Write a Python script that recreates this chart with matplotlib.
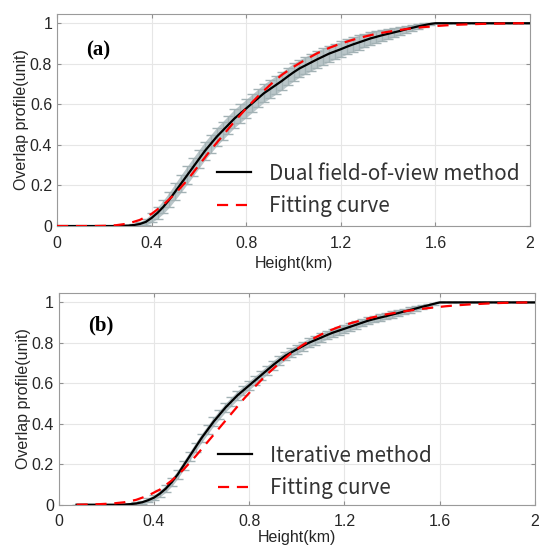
import matplotlib
matplotlib.use("Agg")
import matplotlib.pyplot as plt

# ---- panel (a): dual field-of-view method ----
heights_a = [round(i * 0.025, 3) for i in range(81)]
dual_fov = [0.0, 0.0, 0.0, 0.0, 0.0, 0.0, 0.0, 0.0, 0.0, 0.0,
            0.0, 0.001, 0.002, 0.005, 0.01, 0.02, 0.04, 0.065, 0.095, 0.13,
            0.17, 0.21, 0.25, 0.29, 0.33, 0.37, 0.405, 0.44, 0.47, 0.50,
            0.53, 0.555, 0.58, 0.605, 0.63, 0.655, 0.675, 0.695, 0.715, 0.737,
            0.758, 0.777, 0.792, 0.807, 0.822, 0.836, 0.85, 0.861, 0.872, 0.884,
            0.895, 0.905, 0.915, 0.925, 0.933, 0.941, 0.948, 0.955, 0.962, 0.97,
            0.977, 0.984, 0.99, 0.996, 1.0, 1.0, 1.0, 1.0, 1.0, 1.0,
            1.0, 1.0, 1.0, 1.0, 1.0, 1.0, 1.0, 1.0, 1.0, 1.0, 1.0]
dual_err = [0.0, 0.0, 0.0, 0.0, 0.0, 0.0, 0.0, 0.0, 0.0, 0.0,
            0.0, 0.002, 0.004, 0.007, 0.011, 0.016, 0.022, 0.028, 0.033, 0.037,
            0.04, 0.043, 0.044, 0.045, 0.045, 0.045, 0.045, 0.045, 0.045, 0.045,
            0.045, 0.045, 0.045, 0.045, 0.045, 0.045, 0.045, 0.045, 0.045, 0.044,
            0.044, 0.043, 0.043, 0.042, 0.042, 0.041, 0.04, 0.039, 0.038, 0.037,
            0.036, 0.035, 0.034, 0.032, 0.03, 0.028, 0.026, 0.024, 0.021, 0.018,
            0.015, 0.012, 0.009, 0.005, 0.0, 0.0, 0.0, 0.0, 0.0, 0.0,
            0.0, 0.0, 0.0, 0.0, 0.0, 0.0, 0.0, 0.0, 0.0, 0.0, 0.0]

fit_heights = [round(i * 0.05, 2) for i in range(41)]
fit_a = [0.0, 0.0, 0.0, 0.0, 0.001, 0.004, 0.012, 0.03, 0.06, 0.105,
         0.16, 0.225, 0.30, 0.375, 0.445, 0.515, 0.58, 0.64, 0.695, 0.745,
         0.785, 0.82, 0.852, 0.878, 0.90, 0.918, 0.934, 0.948, 0.958, 0.967,
         0.975, 0.981, 0.986, 0.99, 0.993, 0.995, 0.997, 0.998, 0.999, 1.0, 1.0]

# ---- panel (b): iterative method ----
heights_b = [round(0.075 + i * 0.025, 3) for i in range(78)]
iterative = [0.0, 0.0, 0.0, 0.0, 0.0, 0.0, 0.0, 0.0, 0.001, 0.003,
             0.006, 0.012, 0.022, 0.035, 0.055, 0.08, 0.112, 0.15, 0.195, 0.24,
             0.285, 0.33, 0.37, 0.41, 0.445, 0.48, 0.51, 0.54, 0.565, 0.59,
             0.615, 0.64, 0.665, 0.69, 0.713, 0.735, 0.752, 0.768, 0.784, 0.8,
             0.813, 0.825, 0.838, 0.85, 0.86, 0.87, 0.88, 0.89, 0.9, 0.91,
             0.918, 0.925, 0.932, 0.94, 0.947, 0.955, 0.962, 0.97, 0.978, 0.985,
             0.993, 1.0, 1.0, 1.0, 1.0, 1.0, 1.0, 1.0, 1.0, 1.0,
             1.0, 1.0, 1.0, 1.0, 1.0, 1.0, 1.0, 1.0]
iter_err = [0.0, 0.0, 0.0, 0.0, 0.0, 0.0, 0.0, 0.0, 0.001, 0.003,
            0.005, 0.008, 0.011, 0.014, 0.016, 0.018, 0.02, 0.021, 0.022, 0.022,
            0.022, 0.022, 0.022, 0.022, 0.022, 0.022, 0.022, 0.022, 0.022, 0.022,
            0.022, 0.022, 0.022, 0.022, 0.022, 0.022, 0.022, 0.022, 0.022, 0.022,
            0.022, 0.022, 0.021, 0.021, 0.02, 0.02, 0.019, 0.019, 0.018, 0.018,
            0.017, 0.017, 0.016, 0.016, 0.015, 0.014, 0.013, 0.012, 0.01, 0.008,
            0.005, 0.0, 0.0, 0.0, 0.0, 0.0, 0.0, 0.0, 0.0, 0.0,
            0.0, 0.0, 0.0, 0.0, 0.0, 0.0, 0.0, 0.0]

fit_heights_b = [round(0.075 + i * 0.05, 3) for i in range(39)] + [2.0]
fit_b = [0.0, 0.001, 0.003, 0.006, 0.012, 0.024, 0.045, 0.075, 0.12, 0.175,
         0.24, 0.31, 0.38, 0.45, 0.52, 0.585, 0.645, 0.698, 0.748, 0.79,
         0.825, 0.855, 0.878, 0.897, 0.913, 0.928, 0.941, 0.951, 0.96, 0.968,
         0.975, 0.981, 0.986, 0.99, 0.993, 0.996, 0.998, 0.999, 1.0, 1.0]

xticks = [0, 0.4, 0.8, 1.2, 1.6, 2]
xticklabels = ["0", "0.4", "0.8", "1.2", "1.6", "2"]
yticks = [0, 0.2, 0.4, 0.6, 0.8, 1]
yticklabels = ["0", "0.2", "0.4", "0.6", "0.8", "1"]

plt.rcParams['font.family'] = ['Liberation Sans', 'DejaVu Sans']

fig = plt.figure(figsize=(5.41, 5.47), dpi=100)
ax_a = fig.add_axes([0.1054, 0.5868, 0.8743, 0.3885])
ax_b = fig.add_axes([0.1085, 0.0773, 0.8804, 0.3876])

panels = [
    (ax_a, heights_a, dual_fov, dual_err, fit_heights, fit_a,
     "Dual field-of-view method", "(a)", (0.338, 0.298), 0.828, 3.5),
    (ax_b, heights_b, iterative, iter_err, fit_heights_b, fit_b,
     "Iterative method", "(b)", (0.335, 0.283), 0.845, 0.5),
]

for ax, h, meas, err, fh, fit, name, tag, leg_pos, tag_y, xpad in panels:
    lo = [m - e for m, e in zip(meas, err)]
    hi = [m + e for m, e in zip(meas, err)]
    ax.fill_between(h, lo, hi, color='#bac6c9', lw=0, zorder=1.5)
    eb = ax.errorbar(h, meas, yerr=err, fmt='none', ecolor='#a3b2b5',
                     elinewidth=1.0, capsize=3.5, capthick=1.0, zorder=2)
    for cap in eb[1]:
        cap.set_color('#84959a')
    ax.plot(h, meas, color='black', lw=1.6, label=name, zorder=3)
    ax.plot(fh, fit, color='red', lw=1.6, ls=(0, (5, 3.5)), label="Fitting curve", zorder=4)

    ax.set_xlim(0, 2)
    ax.set_ylim(0, 1.048)
    ax.set_xticks(xticks)
    ax.set_xticklabels(xticklabels)
    ax.set_yticks(yticks)
    ax.set_yticklabels(yticklabels)
    ax.grid(True, color='#e6e6e6', lw=0.8)
    ax.set_axisbelow(True)
    ax.tick_params(direction='in', length=3, top=True, right=True,
                   colors='#909090', labelcolor='#262626', labelsize=11.5)
    ax.tick_params(axis='x', pad=7)
    for sp in ax.spines.values():
        sp.set_color('#9a9a9a')
        sp.set_linewidth(0.8)
    ax.set_xlabel("Height(km)", fontsize=11.5, color='#262626', labelpad=xpad)
    ax.set_ylabel("Overlap profile(unit)", fontsize=11.5, color='#262626', labelpad=0.5)
    ax.text(0.061, tag_y, tag, transform=ax.transAxes, fontsize=15, fontweight='bold',
            family='Liberation Serif', va='center')
    leg = ax.legend(loc='upper left', bbox_to_anchor=leg_pos, frameon=False,
                    borderpad=0, borderaxespad=0,
                    handlelength=1.65, handletextpad=0.85, labelspacing=0.5,
                    prop={'family': ['Noto Sans CJK SC', 'DejaVu Sans'], 'size': 14.9})
    for t in leg.get_texts():
        t.set_color('#333333')

fig.savefig("out.png", dpi=100)
